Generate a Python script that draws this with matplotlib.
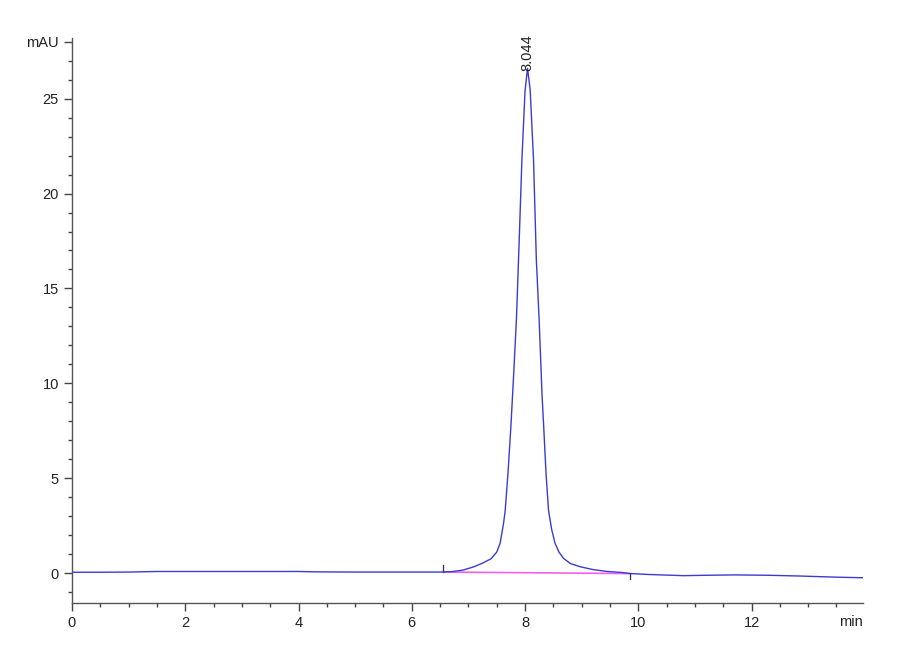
import matplotlib.pyplot as plt
from matplotlib.ticker import MultipleLocator

plt.rcParams['font.family'] = ['Liberation Sans', 'DejaVu Sans']

# chromatogram (time in min, signal in mAU)
time = [0.0, 0.5, 1.0, 1.5, 2.0, 3.0, 4.0, 4.3, 5.0, 6.0, 6.5, 6.7, 6.9,
        7.1, 7.25, 7.4, 7.5, 7.56, 7.62, 7.65, 7.7, 7.75, 7.8, 7.85, 7.9,
        7.945, 8.0, 8.044, 8.09, 8.15, 8.2, 8.25, 8.3, 8.33, 8.37, 8.415,
        8.47, 8.53, 8.6, 8.68, 8.8, 8.975, 9.2, 9.45, 9.7, 9.86, 10.2,
        10.8, 11.2, 11.7, 12.3, 12.86, 13.5, 13.97]
signal = [0.04, 0.04, 0.05, 0.08, 0.08, 0.08, 0.08, 0.06, 0.05, 0.05, 0.05,
          0.07, 0.15, 0.33, 0.52, 0.75, 1.1, 1.57, 2.6, 3.3, 5.3, 7.7, 10.5,
          13.5, 17.8, 21.8, 25.4, 26.6, 25.5, 21.8, 16.5, 13.3, 9.4, 7.7,
          5.3, 3.3, 2.3, 1.57, 1.1, 0.77, 0.5, 0.33, 0.18, 0.08, 0.03, -0.03,
          -0.08, -0.14, -0.12, -0.10, -0.12, -0.16, -0.22, -0.25]

peak_rt = 8.044
peak_label = "8.044"
base_start = (6.56, 0.05)
base_end = (9.86, -0.03)

fig = plt.figure(figsize=(9, 6.6), dpi=100)
ax = fig.add_axes([0.08, 0.0864, 0.879, 0.856])

ax.plot(time, signal, color='#3a3ad6', lw=1.0, zorder=3)
ax.plot([base_start[0], base_end[0]], [base_start[1], base_end[1]],
        color='#f060f0', lw=1.2, zorder=2)
# integration start / end marks
ax.plot([base_start[0], base_start[0]], [base_start[1], base_start[1] + 0.35],
        color='#333333', lw=0.9)
ax.plot([base_end[0], base_end[0]], [base_end[1], base_end[1] - 0.3],
        color='#333333', lw=0.9)

ax.text(peak_rt, 26.45, peak_label, rotation=90, ha='center', va='bottom',
        fontsize=10.5, color='#222222', clip_on=False)

ax.set_xlim(0, 13.97)
ax.set_ylim(-1.58, 28.2)

ax.set_xticks([0, 2, 4, 6, 8, 10, 12])
ax.xaxis.set_minor_locator(MultipleLocator(0.5))
ax.set_yticks([0, 5, 10, 15, 20, 25, 28])
ax.set_yticklabels(['0', '5', '10', '15', '20', '25', 'mAU'])
ax.yaxis.set_minor_locator(MultipleLocator(1))

for s in ['top', 'right']:
    ax.spines[s].set_visible(False)
for s in ['left', 'bottom']:
    ax.spines[s].set_color('#555555')
    ax.spines[s].set_linewidth(1.0)

ax.tick_params(which='major', length=6, width=1, color='#444444',
               labelsize=10.5, labelcolor='#222222')
ax.tick_params(which='minor', length=3, width=1, color='#444444')

ax.text(1.0, -0.022, 'min', transform=ax.transAxes, ha='right', va='top',
        fontsize=10.5, color='#222222')

fig.savefig('out.png', dpi=100)
